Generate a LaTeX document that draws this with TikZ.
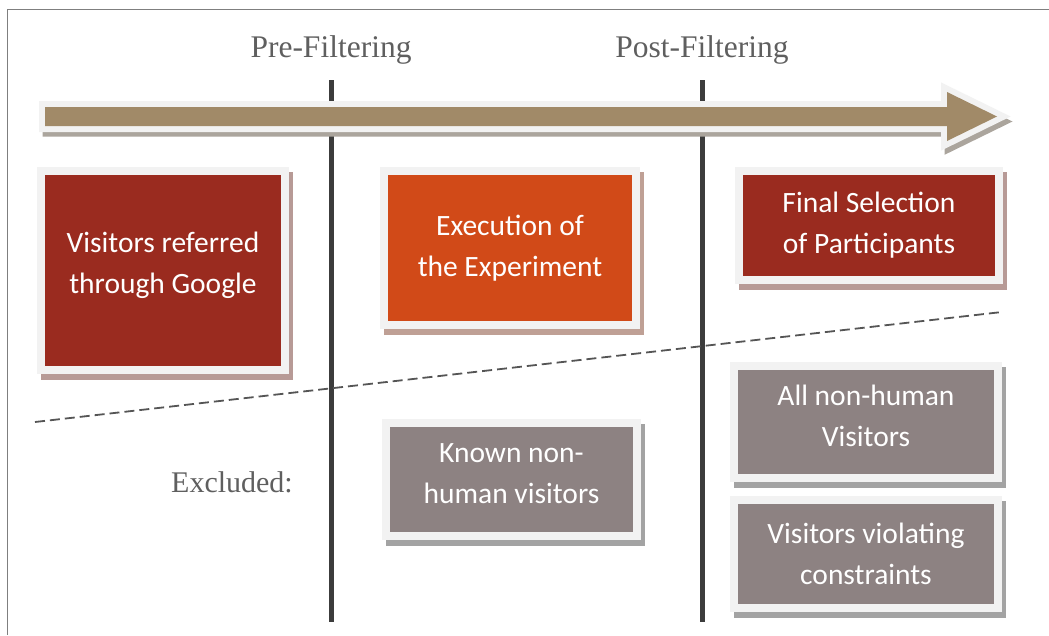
\documentclass[tikz,border=0pt]{standalone}
\usepackage{fontspec}
\setmainfont{Liberation Serif}
\newfontfamily\boxfont{Carlito}
\usetikzlibrary{backgrounds}
\definecolor{framegray}{HTML}{7F7F7F}
\definecolor{edgewhite}{HTML}{F2F2F2}
\definecolor{darkred}{HTML}{9A2B1F}
\definecolor{burnt}{HTML}{D14A18}
\definecolor{mauve}{HTML}{8D8282}
\definecolor{tan}{HTML}{A18A68}
\definecolor{redshadow}{HTML}{B79A96}
\definecolor{orangeshadow}{HTML}{BFA095}
\definecolor{grayshadow}{HTML}{A3A3A3}
\definecolor{arrowshadow}{HTML}{ABA59D}
\definecolor{labelgray}{HTML}{5F5F5F}
\definecolor{barcol}{HTML}{3C3C3C}
\definecolor{dashcol}{HTML}{555555}
\tikzset{
  stagebox/.style={draw=edgewhite, line width=8pt, inner sep=0pt, outer sep=0pt,
    text=white, align=center, font=\boxfont\fontsize{29.5}{41}\selectfont},
  phaselabel/.style={text=labelgray, font=\fontsize{31.5}{34}\selectfont, inner sep=0pt},
  phasebar/.style={barcol, line width=5pt},
  splitline/.style={dashcol, line width=1.8pt, dash pattern=on 10pt off 5pt}
}
\begin{document}
\begin{tikzpicture}[x=1pt,y=-1pt]
\useasboundingbox (0,0) rectangle (1049,635);
% outer frame
\draw[framegray, line width=1.5pt] (7.5,635) -- (7.5,9.5) -- (1049,9.5);

% phase labels and bars
\node[phaselabel] (prelab) at (331,50) {Pre-Filtering};
\node[phaselabel] (postlab) at (702,50) {Post-Filtering};
\coordinate (pretop) at (331,80);
\coordinate (prebot) at (331,622);
\coordinate (posttop) at (702,80);
\coordinate (postbot) at (702,622);
\draw[phasebar] (pretop) -- (prebot);
\draw[phasebar] (posttop) -- (postbot);

% dashed separator
\coordinate (dashA) at (35,422);
\coordinate (dashB) at (1002,312);
\draw[splitline] (dashA) -- (dashB);

% timeline arrow
\filldraw[draw=arrowshadow, fill=arrowshadow, line width=11pt, line join=miter, miter limit=4, shift={(3,5)}]
  (45,107) -- (947,107) -- (947,92) -- (997,116.5) -- (947,141) -- (947,126) -- (45,126) -- cycle;
\draw[edgewhite, line width=12pt, line join=miter, miter limit=4]
  (45,107) -- (947,107) -- (947,92) -- (997,116.5) -- (947,141) -- (947,126) -- (45,126) -- cycle;
\fill[tan]
  (45,107) -- (947,107) -- (947,92) -- (997,116.5) -- (947,141) -- (947,126) -- (45,126) -- cycle;
\coordinate (arrowtip) at (997,116.5);

% boxes
\node[stagebox, fill=darkred, minimum width=244pt, minimum height=199pt, text depth=16pt] (google) at (163,270.5)
  {Visitors referred\\through Google};
\node[stagebox, fill=burnt, minimum width=252pt, minimum height=154pt] (exec) at (510,248)
  {Execution of\\the Experiment};
\node[stagebox, fill=darkred, minimum width=260pt, minimum height=109pt] (final) at (869,225.5)
  {Final Selection\\of Participants};
\node[stagebox, fill=mauve, minimum width=251pt, minimum height=113pt, text depth=12pt] (known) at (511.5,479.5)
  {Known non-\\human visitors};
\node[stagebox, fill=mauve, minimum width=264pt, minimum height=112pt, text depth=12pt] (allnh) at (866,422)
  {All non-human\\Visitors};
\node[stagebox, fill=mauve, minimum width=264pt, minimum height=108pt] (violate) at (866,554)
  {Visitors violating\\constraints};

\node[phaselabel, font=\fontsize{30}{34}\selectfont] (excl) at (232,482) {Excluded:};

% shadows
\begin{scope}[on background layer]
\foreach \n/\c in {google/redshadow, exec/orangeshadow, final/redshadow, known/grayshadow, allnh/grayshadow, violate/grayshadow}{
  \fill[\c] ([xshift=0pt,yshift=-1pt]\n.north west) rectangle ([xshift=8pt,yshift=-10pt]\n.south east);
}
\end{scope}
\end{tikzpicture}
\end{document}
